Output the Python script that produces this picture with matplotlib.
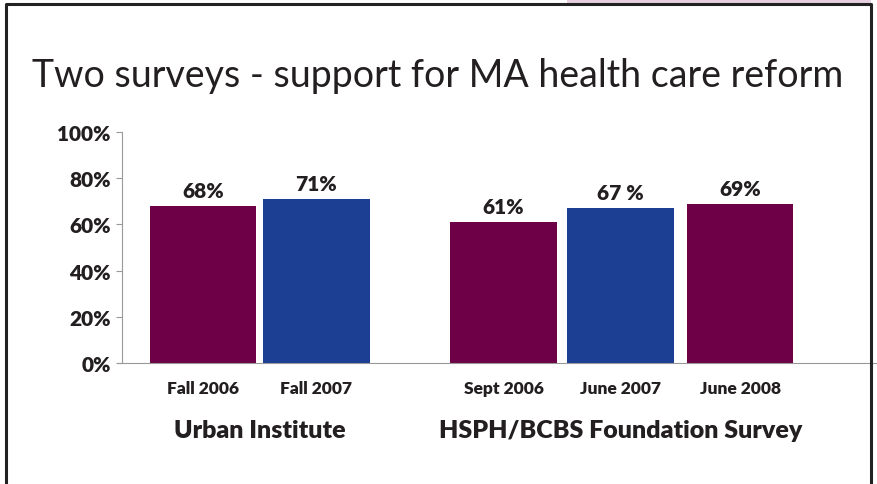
import matplotlib.pyplot as plt
from matplotlib.patches import Rectangle
from matplotlib.lines import Line2D

plt.rcParams['font.family'] = ['Lato', 'DejaVu Sans']

# data
categories = ['Fall 2006', 'Fall 2007', 'Sept 2006', 'June 2007', 'June 2008']
values = [68, 71, 61, 67, 69]
value_labels = ['68%', '71%', '61%', '67 %', '69%']
positions = [0, 0.97, 2.57, 3.57, 4.59]
bar_colors = ['#6E0048', '#1C3F94', '#6E0048', '#1C3F94', '#6E0048']
groups = ['Urban Institute', 'HSPH/BCBS Foundation Survey']
group_centers = [0.485, 3.57]
yticks = [0, 20, 40, 60, 80, 100]

text_color = '#231F20'

fig = plt.figure(figsize=(8.77, 4.85), dpi=100)

# slide frame
fig.add_artist(Rectangle((567 / 877, 1 - 4 / 485), 304 / 877, 4 / 485,
                         transform=fig.transFigure, facecolor='#E6D0E0',
                         edgecolor='none'))
fig.add_artist(Line2D([6 / 877, 6 / 877, 871 / 877, 871 / 877],
                      [0, 1 - 5 / 485, 1 - 5 / 485, 0],
                      transform=fig.transFigure, color='#222222', lw=2.2))

ax = fig.add_axes([122 / 877, 1 - 364 / 485, (877 - 122) / 877, 231 / 485])
ax.set_facecolor('none')

ax.bar(positions, values, width=0.91, color=bar_colors)
for x, v, lab in zip(positions, values, value_labels):
    ax.text(x, v + 2.5, lab, ha='center', va='bottom', fontsize=15,
            fontweight='heavy', color=text_color)

ax.set_xlim(-0.69, 5.76)
ax.set_ylim(0, 100)
ax.set_yticks(yticks)
ax.set_yticklabels([f'{t}%' for t in yticks], fontsize=15, fontweight='heavy',
                   color=text_color)
ax.set_xticks(positions)
ax.set_xticklabels(categories, fontsize=12.5, fontweight='heavy', color=text_color)
ax.tick_params(axis='x', length=0, pad=12)
ax.tick_params(axis='y', length=4, color='#999999', pad=4)
for s in ['top', 'right']:
    ax.spines[s].set_visible(False)
ax.spines['left'].set_color('#999999')
ax.spines['bottom'].set_color('#999999')
ax.spines['bottom'].set_bounds(-0.72, 5.76)

for c, g in zip(group_centers, groups):
    ax.text(c, -29, g, ha='center', va='center', fontsize=18,
            fontweight='heavy', color=text_color)

fig.text(438 / 877, 1 - 76 / 485, 'Two surveys - support for MA health care reform',
         ha='center', va='center', fontsize=27, color=text_color)

fig.savefig('out.png', dpi=100)
